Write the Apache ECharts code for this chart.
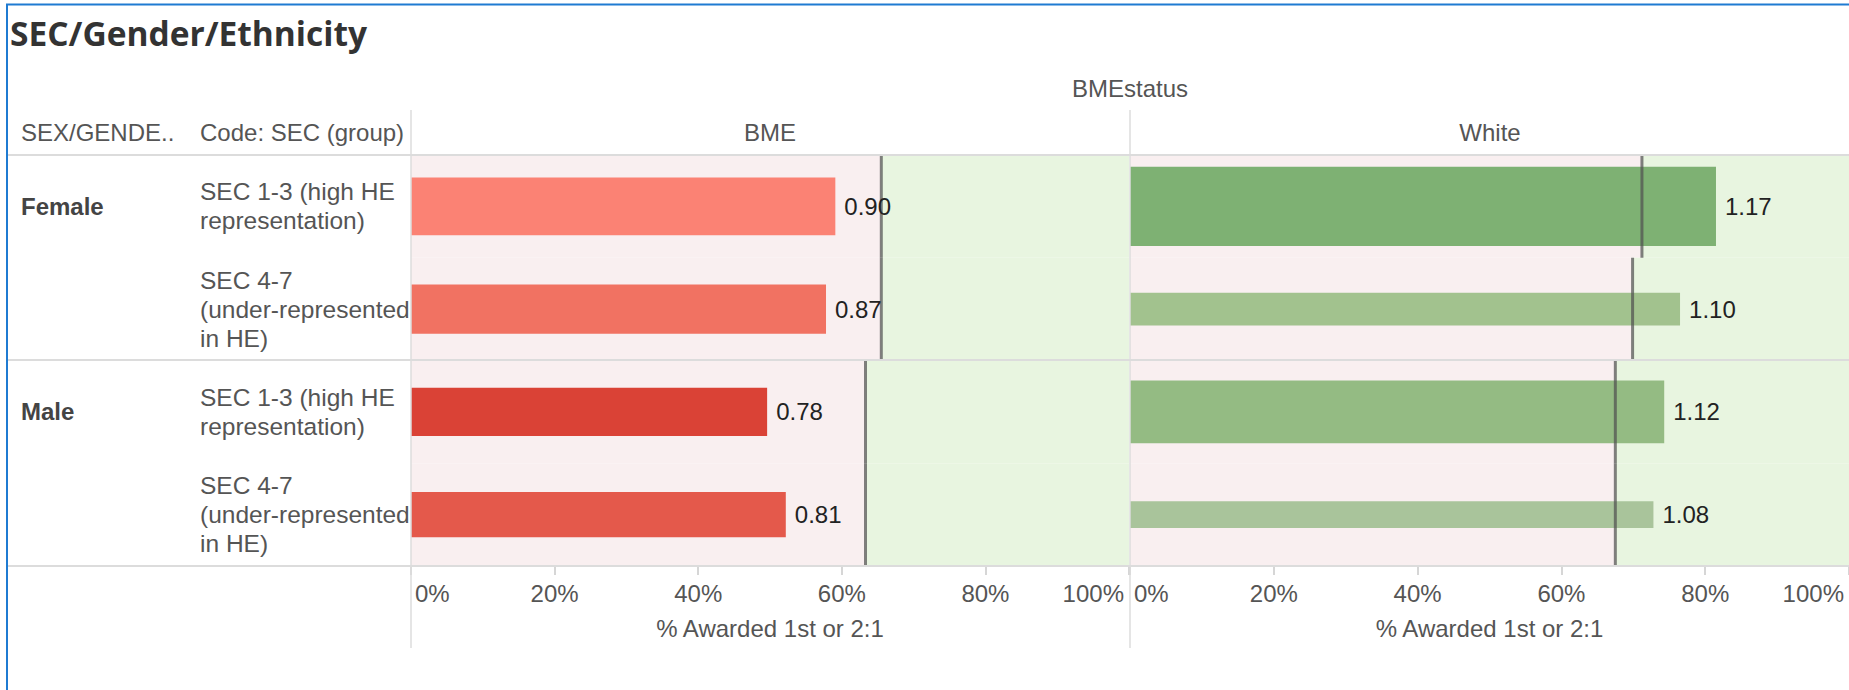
<!DOCTYPE html>
<html><head><meta charset="utf-8">
<script src="https://cdn.jsdelivr.net/npm/echarts@6/dist/echarts.min.js"></script>
<style>html,body{margin:0;padding:0;background:#fff}#c{width:1849px;height:690px}</style>
</head><body><div id="c"></div><script>
// ---------------- data ----------------
const chartTitle = 'SEC/Gender/Ethnicity';
const genders = ['Female', 'Male'];
const secGroups = ['SEC 1-3 (high HE\nrepresentation)', 'SEC 4-7\n(under-represented\nin HE)'];
const bmeStatus = ['BME', 'White'];
const xTickValues = [0, 20, 40, 60, 80, 100];
const xAxisTitle = '% Awarded 1st or 2:1';
// rows: Female SEC1-3, Female SEC4-7, Male SEC1-3, Male SEC4-7
const bmePct = [59.1, 57.8, 49.6, 52.2];
const whitePct = [81.5, 76.5, 74.3, 72.8];
const bmeRatio = [0.90, 0.87, 0.78, 0.81];
const whiteRatio = [1.17, 1.10, 1.12, 1.08];
const bmeRef = [65.5, 65.5, 63.3, 63.3];
const whiteRef = [71.2, 69.9, 67.5, 67.5];
// relative cohort size (drives mark thickness)
const bmeSize = [0.56, 0.48, 0.47, 0.44];
const whiteSize = [0.77, 0.32, 0.61, 0.26];

// ---------------- styles ----------------
const bmeColors = ['#fb8274', '#f17262', '#da4236', '#e4594b'];
const whiteColors = ['#7eb173', '#a2c28e', '#94bb83', '#a9c49b'];
const FONT = '"Liberation Sans", Arial, sans-serif';
const PINK = '#f9eff0', GREEN = '#e8f5e0';
const GRID_TOP = 155, GRID_H = 411;
const panels = [
  {left: 411, width: 718, pct: bmePct, ratio: bmeRatio, ref: bmeRef, size: bmeSize, colors: bmeColors},
  {left: 1130, width: 719, pct: whitePct, ratio: whiteRatio, ref: whiteRef, size: whiteSize, colors: whiteColors}
];
const subLabels = genders.flatMap(() => secGroups);
const genderLabels = genders.flatMap(g => secGroups.map((s, i) => i === 0 ? g : ''));
const xMin = xTickValues[0], xMax = xTickValues[xTickValues.length - 1];
const xStep = xTickValues[1] - xTickValues[0];
const tickText = {fontSize: 24, fontFamily: FONT, color: '#555'};

const grids = [], xAxes = [], yAxes = [], series = [];
panels.forEach((p, gi) => {
  grids.push({left: p.left, top: GRID_TOP, width: p.width, height: GRID_H, containLabel: false});
  xAxes.push({
    type: 'value', gridIndex: gi, min: xMin, max: xMax, interval: xStep,
    axisLine: {show: false}, splitLine: {show: false},
    axisTick: {show: true, length: 9, lineStyle: {color: '#c8c8c8', width: 1.5}},
    axisLabel: Object.assign({}, tickText, {
      margin: 15, alignMinLabel: 'left', alignMaxLabel: 'right',
      formatter: v => v === xMin ? '{mn|' + v + '%}' : (v === xMax ? '{mx|' + v + '%}' : v + '%'),
      rich: {
        mn: Object.assign({}, tickText, {padding: [0, 0, 0, 4]}),
        mx: Object.assign({}, tickText, {padding: [0, 5, 0, 0]})
      }
    }),
    name: xAxisTitle, nameLocation: 'middle', nameGap: 50,
    nameTextStyle: {fontSize: 24, fontFamily: FONT, color: '#555'}
  });
  yAxes.push({
    type: 'category', gridIndex: gi, data: subLabels, inverse: true,
    axisLine: {show: false}, axisTick: {show: false}, splitLine: {show: false},
    axisLabel: gi === 0 ? {show: true, align: 'left', margin: 211, fontSize: 24.5, lineHeight: 29,
      fontFamily: FONT, color: '#555'} : {show: false}
  });
  const yIdx = yAxes.length - 1;
  // background bands (below / above reference)
  series.push({
    type: 'custom', xAxisIndex: gi, yAxisIndex: yIdx, z: 1, silent: true,
    data: p.ref.map((r, i) => [r, i]),
    encode: {x: 0, y: 1},
    renderItem: (params, api) => {
      const r = api.value(0), row = api.value(1);
      const a = api.coord([xMin, row]), b = api.coord([r, row]), c = api.coord([xMax, row]);
      const band = api.size([0, 1])[1];
      return {type: 'group', children: [
        {type: 'rect', shape: {x: a[0], y: a[1] - band / 2, width: b[0] - a[0], height: band}, style: {fill: PINK}},
        {type: 'rect', shape: {x: b[0], y: a[1] - band / 2, width: c[0] - b[0], height: band}, style: {fill: GREEN}}
      ]};
    }
  });
  // bars
  series.push({
    type: 'custom', xAxisIndex: gi, yAxisIndex: yIdx, z: 2, silent: true,
    data: p.pct.map((v, i) => [v, i, p.size[i]]),
    encode: {x: 0, y: 1},
    renderItem: (params, api) => {
      const v = api.value(0), row = api.value(1), sz = api.value(2);
      const a = api.coord([xMin, row]), b = api.coord([v, row]);
      const h = api.size([0, 1])[1] * sz;
      return {type: 'rect', shape: {x: a[0], y: a[1] - h / 2, width: b[0] - a[0], height: h},
        style: {fill: p.colors[params.dataIndex]}};
    }
  });
  // reference lines
  series.push({
    type: 'custom', xAxisIndex: gi, yAxisIndex: yIdx, z: 3, silent: true,
    data: p.ref.map((r, i) => [r, i]),
    encode: {x: 0, y: 1},
    renderItem: (params, api) => {
      const c = api.coord([api.value(0), api.value(1)]);
      const band = api.size([0, 1])[1];
      return {type: 'line', shape: {x1: c[0], y1: c[1] - band / 2, x2: c[0], y2: c[1] + band / 2},
        style: {stroke: 'rgba(80,80,80,0.72)', lineWidth: 3}};
    }
  });
  // value labels
  series.push({
    type: 'custom', xAxisIndex: gi, yAxisIndex: yIdx, z: 4, silent: true,
    data: p.pct.map((v, i) => [v, i, p.ratio[i]]),
    encode: {x: 0, y: 1},
    renderItem: (params, api) => {
      const b = api.coord([api.value(0), api.value(1)]);
      return {type: 'text', x: b[0] + 9, y: b[1],
        style: {text: Number(api.value(2)).toFixed(2), font: '24px ' + FONT, fill: '#222',
          align: 'left', verticalAlign: 'middle'}};
    }
  });
});
// gender labels axis on first grid
yAxes.push({
  type: 'category', gridIndex: 0, data: genderLabels, inverse: true, position: 'left',
  axisLine: {show: false}, axisTick: {show: false}, splitLine: {show: false},
  axisLabel: {show: true, align: 'left', margin: 390, fontSize: 24, fontWeight: 'bold',
    fontFamily: FONT, color: '#444', interval: 0, padding: [0, 0, 6, 0]}
});

const LINE = '#dcdcdc';
const HF = '24px ' + FONT;
const graphic = [
  {type: 'line', z: 20, shape: {x1: 6, y1: 4.5, x2: 1849, y2: 4.5}, style: {stroke: '#1f7bd2', lineWidth: 2}},
  {type: 'line', z: 20, shape: {x1: 7, y1: 4, x2: 7, y2: 690}, style: {stroke: '#1f7bd2', lineWidth: 2}},
  {type: 'text', z: 20, x: 10, y: 33, style: {text: chartTitle, font: 'bold 33.5px "Open Sans", sans-serif', fill: '#333', verticalAlign: 'middle'}},
  {type: 'text', z: 20, x: 1130, y: 88, style: {text: 'BMEstatus', font: HF, fill: '#555', align: 'center', verticalAlign: 'middle'}},
  {type: 'text', z: 20, x: 21, y: 132, style: {text: 'SEX/GENDE..', font: HF, fill: '#555', verticalAlign: 'middle'}},
  {type: 'text', z: 20, x: 200, y: 132, style: {text: 'Code: SEC (group)', font: HF, fill: '#555', verticalAlign: 'middle'}},
  {type: 'text', z: 20, x: 770, y: 132, style: {text: bmeStatus[0], font: HF, fill: '#555', align: 'center', verticalAlign: 'middle'}},
  {type: 'text', z: 20, x: 1490, y: 132, style: {text: bmeStatus[1], font: HF, fill: '#555', align: 'center', verticalAlign: 'middle'}},
  {type: 'line', z: 20, shape: {x1: 8, y1: 155, x2: 1849, y2: 155}, style: {stroke: LINE, lineWidth: 2}},
  {type: 'line', z: 20, shape: {x1: 8, y1: 360, x2: 1849, y2: 360}, style: {stroke: LINE, lineWidth: 2}},
  {type: 'line', z: 20, shape: {x1: 8, y1: 566, x2: 1849, y2: 566}, style: {stroke: LINE, lineWidth: 2}},
  {type: 'line', z: 20, shape: {x1: 411, y1: 110, x2: 411, y2: 648}, style: {stroke: LINE, lineWidth: 1.5}},
  {type: 'line', z: 20, shape: {x1: 1130, y1: 110, x2: 1130, y2: 648}, style: {stroke: LINE, lineWidth: 1.5}}
];

const chart = echarts.init(document.getElementById('c'), null, {renderer: 'svg', width: 1849, height: 690});
chart.setOption({
  animation: false, backgroundColor: '#fff',
  grid: grids, xAxis: xAxes, yAxis: yAxes, series: series, graphic: graphic
});
</script></body></html>
